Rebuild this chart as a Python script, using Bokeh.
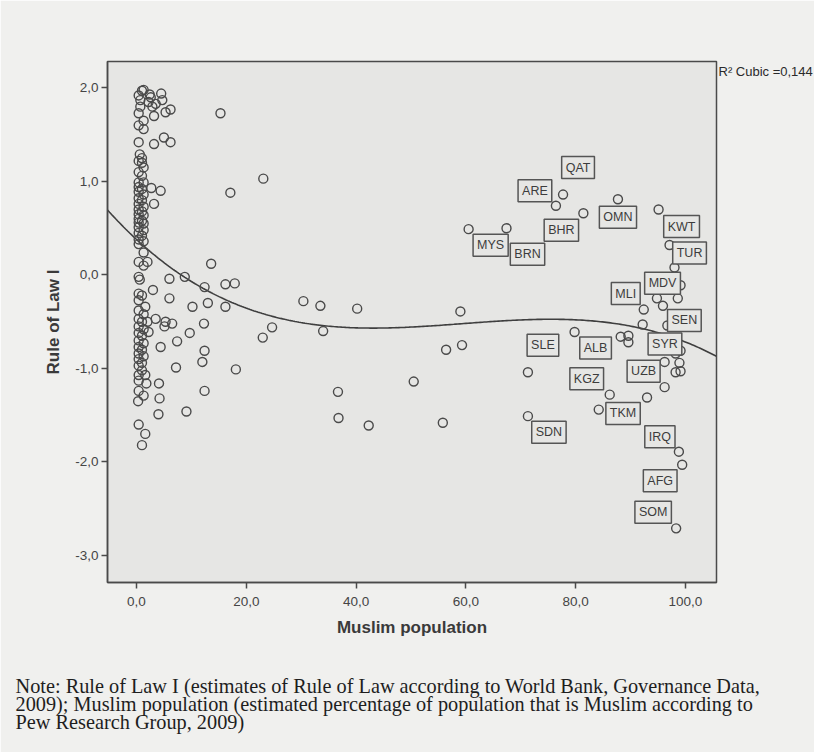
import numpy as np
from bokeh.plotting import figure
from bokeh.models import Range1d, FixedTicker, CustomJSTickFormatter, Label, Title
from bokeh.embed import file_html
from bokeh.resources import INLINE

# ---------------- data ----------------
# countries without a label: Muslim population (%) and Rule of Law I estimate
muslim_pct = [
    1.3, 1.0, 0.4, 2.4, 2.6, 4.5, 4.7, 0.7, 2.2, 3.5, 2.9, 0.7, 5.3, 6.2, 0.4, 3.2,
    1.3, 0.4, 1.3, 0.4, 3.2, 5.0, 6.2, 15.3,
    0.6, 1.0, 0.4, 1.0, 1.3, 0.4, 1.0, 0.4, 1.3, 0.4, 1.0, 0.4, 1.3, 0.4, 1.0, 0.4,
    1.3, 0.4, 1.0, 0.4, 1.3, 0.4, 1.0, 0.4, 1.3, 0.4, 1.3, 0.4, 1.0, 0.4, 1.3, 0.4,
    2.7, 4.4, 3.2, 23.1, 17.1,
    1.3, 0.4, 1.3, 2.0, 13.6, 0.6, 0.4, 6.0, 8.8, 3.0, 12.4, 16.2, 17.9, 0.4, 1.0,
    6.0, 0.4, 1.6, 10.2, 13.0, 16.2,
    0.4, 1.3, 0.4, 1.0, 0.4, 1.3, 0.4, 1.0, 0.4, 1.3, 0.4, 1.0, 0.4, 1.3, 0.4, 1.0,
    0.4, 1.0, 0.4, 1.6, 0.4, 1.8, 0.4, 1.3, 0.3,
    2.0, 3.5, 5.3, 6.5, 5.1, 12.3, 2.2, 9.7, 7.4, 4.4, 12.4, 12.0, 7.2, 18.1, 4.1,
    12.4, 4.2, 9.1, 4.0, 0.4, 1.6, 1.0, 24.7, 23.0,
    30.4, 33.5, 40.2, 59.0, 34.0, 56.4, 59.3, 50.5, 36.7, 36.8, 42.3, 55.8,
    98.0, 94.8, 95.9, 98.6, 92.2, 88.2, 89.6, 89.6, 99.1, 98.2, 96.2, 98.9, 98.2,
    99.1, 84.2,
]
rule_of_law = [
    1.98, 1.97, 1.92, 1.93, 1.90, 1.94, 1.87, 1.87, 1.85, 1.83, 1.80, 1.80, 1.74, 1.77, 1.73, 1.70,
    1.65, 1.60, 1.56, 1.42, 1.40, 1.47, 1.42, 1.73,
    1.29, 1.25, 1.22, 1.20, 1.15, 1.10, 1.06, 0.99, 0.99, 0.94, 0.92, 0.89, 0.86, 0.82, 0.80, 0.76,
    0.73, 0.70, 0.68, 0.65, 0.64, 0.60, 0.58, 0.56, 0.55, 0.51, 0.48, 0.45, 0.42, 0.38, 0.36, 0.33,
    0.93, 0.90, 0.76, 1.03, 0.88,
    0.24, 0.14, 0.10, 0.14, 0.12, -0.05, -0.02, -0.04, -0.02, -0.16, -0.13, -0.10, -0.09, -0.20, -0.22,
    -0.25, -0.27, -0.34, -0.34, -0.30, -0.34,
    -0.38, -0.42, -0.47, -0.50, -0.55, -0.58, -0.62, -0.65, -0.70, -0.73, -0.77, -0.80, -0.84, -0.87, -0.90, -0.94,
    -0.97, -1.02, -1.07, -1.07, -1.13, -1.16, -1.24, -1.29, -1.35,
    -0.50, -0.47, -0.50, -0.52, -0.55, -0.52, -0.61, -0.62, -0.71, -0.77, -0.81, -0.93, -0.99, -1.01, -1.16,
    -1.24, -1.32, -1.46, -1.49, -1.60, -1.70, -1.82, -0.56, -0.67,
    -0.28, -0.33, -0.36, -0.39, -0.60, -0.80, -0.75, -1.14, -1.25, -1.53, -1.61, -1.58,
    0.08, -0.25, -0.33, -0.25, -0.53, -0.66, -0.65, -0.72, -0.81, -0.84, -0.93, -0.94, -1.04,
    -1.03, -1.44,
]

# labelled countries
label_codes = ["QAT", "ARE", "BHR", "OMN", "KWT", "MYS", "BRN", "TUR", "MDV", "MLI", "SEN",
               "SLE", "ALB", "SYR", "UZB", "KGZ", "TKM", "SDN", "IRQ", "AFG", "SOM"]
label_muslim_pct = [77.7, 76.4, 81.4, 87.7, 95.1, 60.5, 67.4, 97.1, 99.1, 92.4, 96.7,
                    71.3, 79.8, 97.9, 96.2, 86.2, 93.0, 71.3, 98.8, 99.4, 98.3]
label_rule_of_law = [0.86, 0.74, 0.66, 0.81, 0.70, 0.49, 0.50, 0.32, -0.11, -0.37, -0.54,
                     -1.04, -0.61, -0.77, -1.20, -1.28, -1.31, -1.51, -1.89, -2.03, -2.71]

x_ticks = [0, 20, 40, 60, 80, 100]
y_ticks = [-3, -2, -1, 0, 1, 2]

# cubic fit: a + b x + c x^2 + d x^3
cubic_coef = [0.38, -0.0543, 9.889e-4, -5.556e-6]
r2_text = "R\u00b2 Cubic =0,144"
x_title = "Muslim population"
y_title = "Rule of Law I"
note_lines = [
    "Note: Rule of Law I (estimates of Rule of Law according to World Bank, Governance Data,",
    "2009); Muslim population (estimated percentage of population that is Muslim according to",
    "Pew Research Group, 2009)",
]

# ---------------- styling / placement ----------------
label_offsets = {  # screen px offsets of the label boxes from their points (dx, dy up)
    "QAT": (15, 27), "ARE": (-21, 15), "BHR": (-22, -17), "OMN": (0, -18), "KWT": (23, -17),
    "MYS": (22, -16), "BRN": (21, -26), "TUR": (20, -8), "MDV": (-18, 2), "MLI": (-18, 16),
    "SEN": (17, 5), "SLE": (15, 27), "ALB": (21, -16), "SYR": (-9, 3), "UZB": (-21, 16),
    "KGZ": (-23, 16), "TKM": (-24, -16), "SDN": (21, -16), "IRQ": (-19, 15), "AFG": (-22, -16),
    "SOM": (-23, 16),
}
INK = "#4a4a4a"
PLOT_BG = "#e6e6e4"
PAGE_BG = "#f0f0ee"
SANS = "Liberation Sans"
SERIF = "Liberation Serif"

X0, X1 = -5.28, 105.65
Y0, Y1 = -3.289, 2.283

p = figure(width=814, height=752, x_range=Range1d(X0, X1), y_range=Range1d(Y0, Y1),
           output_backend="svg", toolbar_location=None,
           min_border_left=107, min_border_right=98, min_border_top=61, min_border_bottom=170)
p.background_fill_color = PLOT_BG
p.border_fill_color = PAGE_BG
p.outline_line_color = INK
p.outline_line_width = 1.5
p.xgrid.visible = False
p.ygrid.visible = False

fmt = CustomJSTickFormatter(code="return tick.toFixed(1).replace('.', ',');")
p.xaxis.ticker = FixedTicker(ticks=x_ticks)
p.yaxis.ticker = FixedTicker(ticks=y_ticks)
for ax in (p.xaxis[0], p.yaxis[0]):
    ax.formatter = fmt
    ax.axis_line_color = INK
    ax.axis_line_width = 1.5
    ax.major_tick_line_color = INK
    ax.major_tick_line_width = 1.5
    ax.major_tick_out = 6
    ax.major_tick_in = 0
    ax.minor_tick_line_color = None
    ax.major_label_text_font = SANS
    ax.major_label_text_font_size = "13.5px"
    ax.major_label_text_color = "#454545"
    ax.axis_label_text_font = SANS
    ax.axis_label_text_font_style = "bold"
    ax.axis_label_text_font_size = "17px"
    ax.axis_label_text_color = "#3a3a3a"
p.xaxis.axis_label = x_title
p.yaxis.axis_label = y_title
p.xaxis.major_label_standoff = 8
p.xaxis.axis_label_standoff = 9
p.yaxis.major_label_standoff = 3
p.yaxis.axis_label_standoff = 9

# cubic fit curve
a, b, c, d = cubic_coef
xs = np.linspace(X0, X1, 300)
ys = a + b * xs + c * xs ** 2 + d * xs ** 3
p.line(xs, ys, line_color="#3f3f3f", line_width=1.6)

# points
p.scatter(muslim_pct, rule_of_law, marker="circle", size=9, fill_color=None,
          line_color="#4a4a4a", line_width=1.4)
p.scatter(label_muslim_pct, label_rule_of_law, marker="circle", size=9, fill_color=None,
          line_color="#4a4a4a", line_width=1.4)

for code, xv, yv in zip(label_codes, label_muslim_pct, label_rule_of_law):
    dx, dy = label_offsets[code]
    p.add_layout(Label(x=xv, y=yv, x_offset=dx, y_offset=dy, text=code,
                       text_align="center", text_baseline="middle",
                       text_font=SANS, text_font_size="12.5px", text_color="#3c3c3c",
                       border_line_color="#555555", border_line_width=1.5,
                       background_fill_color=PLOT_BG, background_fill_alpha=1.0,
                       padding=4))

# R² text at top right, just outside the frame
p.add_layout(Title(text=r2_text, align="left", offset=611, standoff=-35,
                   text_font=SANS, text_font_size="13px", text_font_style="normal",
                   text_color="#2a2a2a"), "above")

# spacer between the x axis and the note, then the note (one multi-line title)
p.add_layout(Title(text=" ", standoff=29, text_font_size="1px"), "below")
p.add_layout(Title(text="\n".join(note_lines), align="left", offset=-92, standoff=2,
                   text_font=SERIF, text_font_size="20.3px", text_font_style="normal",
                   text_line_height=0.83, text_color="#1e1e1e"), "below")

open("out.html", "w").write(file_html(p, INLINE))
